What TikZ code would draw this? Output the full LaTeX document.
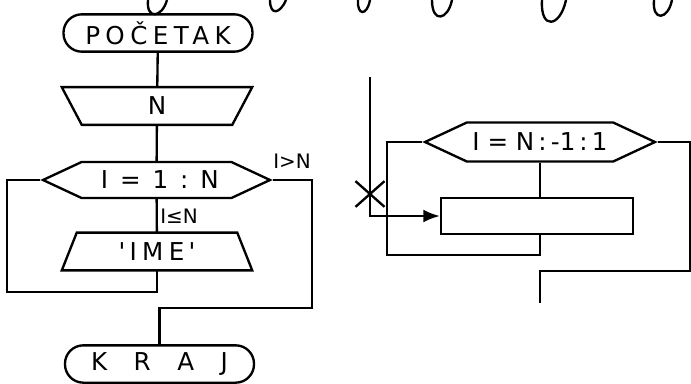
\documentclass[tikz,border=0pt]{standalone}
\usepackage{fontspec}
\setmainfont{DejaVu Sans}
\newfontfamily\spaced[LetterSpace=22]{DejaVu Sans}
\usetikzlibrary{arrows.meta,shapes.symbols,shapes.misc}

\tikzset{
  line/.style={line width=2pt},
  term/.style={draw,line width=2pt,rectangle,rounded corners=0.55cm,
    minimum width=5.67cm,minimum height=1.12cm,inner sep=0pt,
    font=\spaced\fontsize{21}{21}\selectfont},
  iobox/.style={rectangle,minimum width=5.7cm,minimum height=1.12cm,inner sep=0pt,
    font=\fontsize{21}{21}\selectfont},
  loopbox/.style={draw,line width=2pt,signal,signal to=west and east,
    signal pointer angle=50,inner sep=0pt,font=\fontsize{21}{21}\selectfont},
  procbox/.style={draw,line width=2pt,rectangle,
    minimum width=5.76cm,minimum height=1.08cm},
  cond/.style={font=\fontsize{17}{17}\selectfont,inner sep=2pt}
}

\begin{document}
\begin{tikzpicture}[x=0.03cm,y=-0.03cm]
  \useasboundingbox (0,0) rectangle (691,383);
  % left-over loops of the handwriting above
  \draw[line] (148,0) .. controls (146,20) and (162,18) .. (167,0);
  \draw[line] (270,0) .. controls (270,16) and (280,14) .. (286,0);
  \draw[line] (358,0) .. controls (357,16) and (367,16) .. (370,0);
  \draw[line] (432,0) .. controls (432,24) and (448,20) .. (452,0);
  \draw[line] (542,0) .. controls (540,30) and (560,28) .. (566,0);
  \draw[line] (654,0) .. controls (652,22) and (668,20) .. (672,0);

  % left chart: loop I = 1 : N
  \node[term] (start) at (158,33) {POČETAK};
  \node[iobox] (readN) at (157,106) {N};
  \draw[line] (readN.north west) -- (readN.north east) -- ([xshift=-0.6cm]readN.south east)
    -- ([xshift=0.6cm]readN.south west) -- cycle;
  \node[loopbox,minimum width=6.81cm,minimum height=1.08cm] (loopA) at (156.5,180) {\hspace{0.2cm}I\,\ =\ \,1\ \,:\ \,N};
  \node[iobox,minimum width=5.7cm] (printIme) at (157,251.5) {\spaced '\,IME\,'};
  \draw[line] ([xshift=0.45cm]printIme.north west) -- ([xshift=-0.45cm]printIme.north east)
    -- (printIme.south east) -- (printIme.south west) -- cycle;
  \node[term] (stop) at (159.5,364) {K\ \ R\ \ A\ \ J};
  \coordinate (backA) at (7,292);
  \coordinate (exitA) at (312,308);

  \draw[line] (start) -- (readN);
  \draw[line] (readN) -- (loopA);
  \draw[line] (loopA) -- node[cond,right]{I≤N} (printIme);
  \draw[line] (printIme.south) |- (backA) |- (loopA.west);
  \draw[line] (loopA.east) -| (exitA) -| (stop.north);
  \node[cond] (outA) at (292,161) {I>N};

  % right chart: loop I = N : -1 : 1
  \node[loopbox,minimum width=6.9cm,minimum height=1.17cm] (loopB) at (540,142) {I\ =\ N\,:\,-1\,:\,1};
  \node[procbox] (body) at (537,216) {};
  \coordinate (entry) at (370,77);
  \coordinate (backB) at (387,255);
  \coordinate (exitB) at (690,271);
  \coordinate (nextB) at (540,303);

  \draw[line] (loopB.south) -- (loopB.south |- body.north);
  \draw[line] (loopB.south |- body.south) |- (backB) |- (loopB.west);
  \draw[line] (loopB.east) -| (exitB) -| (nextB);
  \draw[line,-{Latex[length=14pt,width=11pt]}] (entry) |- (body.west);
  \node[draw,cross out,line width=2pt,minimum width=0.8cm,minimum height=0.7cm] (jump) at (370,194) {};
\end{tikzpicture}
\end{document}
